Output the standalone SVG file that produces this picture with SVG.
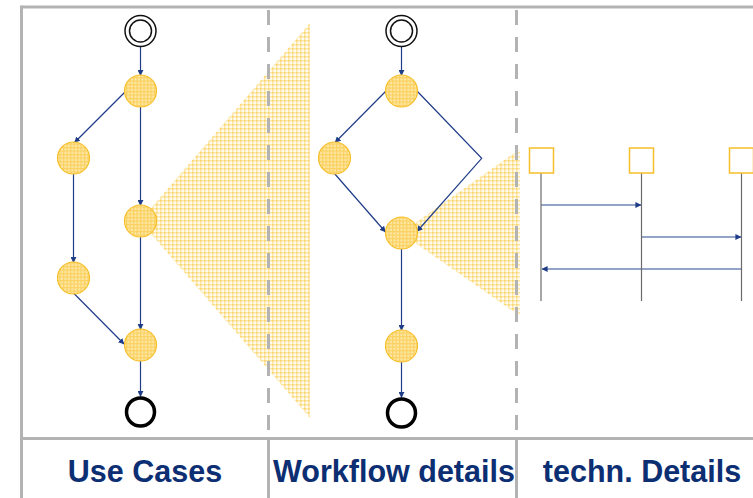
<svg xmlns="http://www.w3.org/2000/svg" width="753" height="498" viewBox="0 0 753 498">
  <defs>
    <!-- light cross-hatch used for the zoom wedges -->
    <pattern id="hatchLight" width="4" height="4" patternUnits="userSpaceOnUse">
      <rect width="4" height="4" fill="#fffbef"/>
      <rect x="0" y="0" width="1.5" height="4" fill="#fde6a6"/>
      <rect x="0" y="0" width="4" height="1.5" fill="#fde6a6"/>
      <rect x="0" y="0" width="1.5" height="1.5" fill="#fbd469"/>
    </pattern>
    <!-- denser hatch for activity nodes -->
    <pattern id="hatchNode" width="3.5" height="3.5" patternUnits="userSpaceOnUse">
      <rect width="3.5" height="3.5" fill="#fde7a4"/>
      <rect x="0" y="0" width="1.2" height="3.5" fill="#fbd160"/>
      <rect x="0" y="0" width="3.5" height="1.2" fill="#fbd160"/>
    </pattern>
    <marker id="arrow" viewBox="0 0 8 8" refX="7.5" refY="4" markerWidth="6" markerHeight="6" markerUnits="userSpaceOnUse" orient="auto">
      <path d="M0,0 L8,4 L0,8 z" fill="#1f3c88"/>
    </marker>
  </defs>
  <style>
    .frame { stroke: #b3b3b3; stroke-width: 3; fill: none; }
    .dash { stroke: #b3b3b3; stroke-width: 3; stroke-dasharray: 15 12; fill: none; }
    .act { fill: url(#hatchNode); stroke: #f6bf2a; stroke-width: 1.2; }
    .start { fill: #fff; stroke: #111; stroke-width: 1.5; }
    .end { fill: #fff; stroke: #000; stroke-width: 3.5; }
    .edge { stroke: #1f3c88; stroke-width: 1.2; fill: none; marker-end: url(#arrow); }
    .wedge { fill: url(#hatchLight); }
    .obj { fill: #fff; stroke: #f6bf2a; stroke-width: 1.5; }
    .life { stroke: #6b6b6b; stroke-width: 1.2; }
    .msg { stroke: #2a4a8e; stroke-width: 1.2; marker-end: url(#arrow); }
    .label { font-family: "Liberation Sans", Arial, sans-serif; font-weight: bold; font-size: 30.5px; fill: #0c2e72; text-anchor: middle; }
  </style>

  <rect width="753" height="498" fill="#fff"/>

  <!-- zoom wedges -->
  <g id="wedges">
    <polygon class="wedge" points="140,221 310,23 310,418"/>
    <polygon class="wedge" points="401,233 520,149 520,316"/>
  </g>

  <!-- frame and lanes -->
  <g id="frame">
    <line class="frame" x1="21.5" y1="7" x2="753" y2="7"/>
    <line class="frame" x1="21.5" y1="5.5" x2="21.5" y2="498"/>
    <line class="frame" x1="20" y1="438.5" x2="753" y2="438.5"/>
    <line class="dash" x1="268.5" y1="10" x2="268.5" y2="437"/>
    <line class="dash" x1="516.5" y1="10" x2="516.5" y2="437"/>
    <line class="frame" x1="268.5" y1="437" x2="268.5" y2="498"/>
    <line class="frame" x1="516.5" y1="437" x2="516.5" y2="498"/>
  </g>

  <!-- connectors -->
  <g id="connectors">
    <!-- use case flow -->
    <line class="edge" x1="140.5" y1="47" x2="140.5" y2="75.5"/>
    <line class="edge" x1="140.5" y1="107" x2="140.5" y2="205.5"/>
    <line class="edge" x1="125" y1="92" x2="74.5" y2="142.5"/>
    <line class="edge" x1="73.5" y1="174" x2="73.5" y2="262.5"/>
    <line class="edge" x1="73.5" y1="293" x2="124" y2="344"/>
    <line class="edge" x1="140.5" y1="237" x2="140.5" y2="329.5"/>
    <line class="edge" x1="140.5" y1="361" x2="140.5" y2="396.5"/>
    <!-- workflow -->
    <line class="edge" x1="401.5" y1="47" x2="401.5" y2="75.5"/>
    <line class="edge" x1="386" y1="91" x2="335" y2="142.5"/>
    <polyline class="edge" points="417,91 481.7,158.3 417,231.5"/>
    <line class="edge" x1="334" y1="173" x2="385.5" y2="232"/>
    <line class="edge" x1="401.5" y1="249" x2="401.5" y2="330.5"/>
    <line class="edge" x1="401.5" y1="362" x2="401.5" y2="397.5"/>
    <!-- sequence messages -->
    <line class="msg" x1="541" y1="205" x2="641" y2="205"/>
    <line class="msg" x1="641.5" y1="237" x2="741" y2="237"/>
    <line class="msg" x1="741.5" y1="269" x2="542" y2="269"/>
  </g>

  <!-- use case nodes -->
  <g id="uc-start"><circle class="start" cx="140.5" cy="31" r="15.5"/><circle class="start" cx="140.5" cy="31" r="11"/></g>
  <g id="uc-a1"><circle class="act" cx="140.5" cy="91" r="16"/></g>
  <g id="uc-a2"><circle class="act" cx="73.5" cy="158" r="16"/></g>
  <g id="uc-a3"><circle class="act" cx="140.5" cy="221" r="16"/></g>
  <g id="uc-a4"><circle class="act" cx="73.5" cy="278" r="16"/></g>
  <g id="uc-a5"><circle class="act" cx="140.5" cy="345" r="16"/></g>
  <g id="uc-end"><circle class="end" cx="140.5" cy="412" r="14"/></g>

  <!-- workflow nodes -->
  <g id="wf-start"><circle class="start" cx="401.5" cy="31" r="15.5"/><circle class="start" cx="401.5" cy="31" r="11"/></g>
  <g id="wf-a1"><circle class="act" cx="401.5" cy="91" r="16"/></g>
  <g id="wf-a2"><circle class="act" cx="334.5" cy="158" r="16"/></g>
  <g id="wf-a3"><circle class="act" cx="401.5" cy="233" r="16"/></g>
  <g id="wf-a4"><circle class="act" cx="401.5" cy="346" r="16"/></g>
  <g id="wf-end"><circle class="end" cx="401.5" cy="413" r="14"/></g>

  <!-- sequence objects with lifelines -->
  <g id="obj1"><line class="life" x1="541" y1="173" x2="541" y2="301"/><rect class="obj" x="529.5" y="148" width="24" height="25"/></g>
  <g id="obj2"><line class="life" x1="641.5" y1="173" x2="641.5" y2="301"/><rect class="obj" x="629.5" y="148" width="24" height="25"/></g>
  <g id="obj3"><line class="life" x1="741.5" y1="173" x2="741.5" y2="301"/><rect class="obj" x="729.5" y="148" width="24" height="25"/></g>

  <!-- lane titles -->
  <g id="titles">
    <text class="label" x="145" y="482">Use Cases</text>
    <text class="label" x="394" y="482">Workflow details</text>
    <text class="label" x="642" y="482">techn. Details</text>
  </g>
</svg>
